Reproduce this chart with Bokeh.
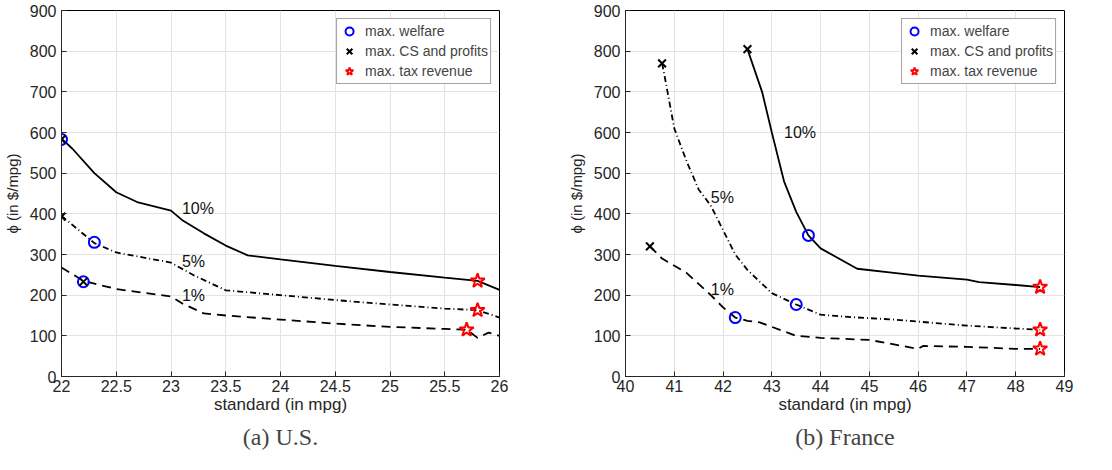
from bokeh.plotting import figure
from bokeh.layouts import row
from bokeh.models import Title, Legend, LegendItem, FixedTicker
from bokeh.core.properties import value
from bokeh.embed import file_html
from bokeh.resources import INLINE

# U.S. panel
us_x10 = [22, 22.1, 22.3, 22.5, 22.7, 23, 23.1, 23.3, 23.5, 23.7, 24, 24.5, 25, 25.5, 25.8, 26]
us_y10 = [585, 560, 500, 453, 428, 408, 385, 352, 322, 298, 288, 272, 257, 243, 235, 213]
us_x5 = [22, 22.3, 22.5, 22.8, 23, 23.2, 23.5, 24, 24.5, 25, 25.5, 25.8, 26]
us_y5 = [395, 328, 305, 290, 280, 250, 212, 200, 188, 177, 167, 163, 145]
us_x1 = [22, 22.2, 22.5, 23, 23.1, 23.3, 23.5, 24, 24.5, 25, 25.5, 25.7, 25.8, 25.9, 26]
us_y1 = [268, 235, 215, 197, 180, 155, 150, 140, 130, 122, 117, 115, 95, 108, 100]
us_wel = ([22, 22.3, 22.2], [583, 330, 233])
us_cs = ([22, 22, 22.2], [583, 393, 233])
us_tax = ([25.8, 25.8, 25.7], [235, 163, 115])
us_lab = ([23.1, 23.1, 23.1], [412, 283, 200])

# France panel
fr_x10 = [42.5, 42.8, 43, 43.25, 43.5, 43.75, 44, 44.75, 45.5, 46, 47, 47.25, 48, 48.5]
fr_y10 = [805, 700, 600, 480, 405, 347, 315, 265, 255, 248, 238, 232, 225, 220]
fr_x5 = [40.75, 40.8, 41, 41.25, 41.5, 41.75, 42, 42.25, 42.5, 43, 43.5, 44, 44.5, 45.5, 46, 47, 48, 48.5]
fr_y5 = [770, 740, 610, 530, 460, 420, 360, 300, 262, 205, 177, 152, 147, 140, 135, 125, 118, 115]
fr_x1 = [40.5, 40.75, 41.25, 41.75, 42, 42.25, 42.5, 42.75, 43.5, 44, 45, 46, 46.1, 47, 48, 48.5]
fr_y1 = [320, 290, 255, 200, 170, 145, 137, 133, 100, 95, 90, 68, 75, 73, 68, 68]
fr_wel = ([43.75, 43.5, 42.25], [347, 177, 145])
fr_cs = ([42.5, 40.75, 40.5], [805, 770, 320])
fr_tax = ([48.5, 48.5, 48.5], [220, 115, 68])
fr_lab = ([43.25, 41.75, 41.75], [600, 440, 215])

labels = ["10%", "5%", "1%"]
FONT = "Liberation Sans"


def panel(xr, xticks, lines, wel, cs, tax, lab, caption, width, bl, br):
    p = figure(width=width, height=454, x_range=xr, y_range=(0, 900),
               output_backend="svg", toolbar_location=None,
               min_border_left=bl, min_border_right=br, min_border_top=10, min_border_bottom=60)
    p.outline_line_color = "black"
    p.xaxis.ticker = FixedTicker(ticks=xticks)
    p.yaxis.ticker = FixedTicker(ticks=list(range(0, 901, 100)))
    for ax in (p.xaxis[0], p.yaxis[0]):
        ax.major_tick_in = 5
        ax.major_tick_out = 0
        ax.minor_tick_line_color = None
        ax.major_label_text_font = FONT
        ax.major_label_text_font_size = "16px"
        ax.major_label_text_color = "#262626"
        ax.axis_label_text_font = FONT
        ax.axis_label_text_font_style = "normal"
        ax.axis_label_text_font_size = "17px"
        ax.axis_label_text_color = "#262626"
        ax.axis_line_color = "#262626"
        ax.major_tick_line_color = "#262626"
    p.xaxis.axis_label = "standard (in mpg)"
    p.xaxis.axis_label_standoff = 0
    p.yaxis.axis_label = "ϕ (in $/mpg)"
    p.yaxis.axis_label_text_font_size = "15px"
    p.yaxis.axis_label_standoff = 6
    p.xaxis.major_label_standoff = 3
    p.grid.grid_line_color = "#e3e3e3"

    for (xs, ys), dash in zip(lines, ["solid", "6 3 1 3", "9 6"]):
        p.line(xs, ys, line_color="black", line_width=1.8, line_dash=dash)
    for i, t in enumerate(labels):
        p.text([lab[0][i]], [lab[1][i]], text=[t], text_font_size="16px",
               text_font=value(FONT), text_baseline="middle", text_color="#111111")
    r1 = p.scatter(wel[0], wel[1], marker="circle", size=11, fill_color=None,
                   line_color="blue", line_width=2)
    r2 = p.scatter(cs[0], cs[1], marker="x", size=11, line_color="black", line_width=2)
    r3 = p.scatter(tax[0], tax[1], marker="star", size=15, fill_color=None,
                   line_color="red", line_width=2)
    leg = Legend(items=[LegendItem(label="max. welfare", renderers=[r1]),
                        LegendItem(label="max. CS and profits", renderers=[r2]),
                        LegendItem(label="max. tax revenue", renderers=[r3])],
                 location="top_right", label_text_font=FONT, label_text_font_size="14px",
                 label_height=16, glyph_height=20, glyph_width=20, spacing=-4, padding=2,
                 margin=8, border_line_color="#444444", label_standoff=6)
    p.add_layout(leg)
    p.add_layout(Title(text=caption, align="center", text_font="Liberation Serif",
                       text_font_size="24px", text_font_style="normal"), "below")
    return p


p1 = panel((22, 26), [22, 22.5, 23, 23.5, 24, 24.5, 25, 25.5, 26],
           [(us_x10, us_y10), (us_x5, us_y5), (us_x1, us_y1)],
           us_wel, us_cs, us_tax, us_lab, "(a) U.S.", 552, 51, 53)
p2 = panel((40, 49), list(range(40, 50)),
           [(fr_x10, fr_y10), (fr_x5, fr_y5), (fr_x1, fr_y1)],
           fr_wel, fr_cs, fr_tax, fr_lab, "(b) France", 544, 73, 32)

p = row(p1, p2)
open("out.html", "w").write(file_html(p, INLINE))
